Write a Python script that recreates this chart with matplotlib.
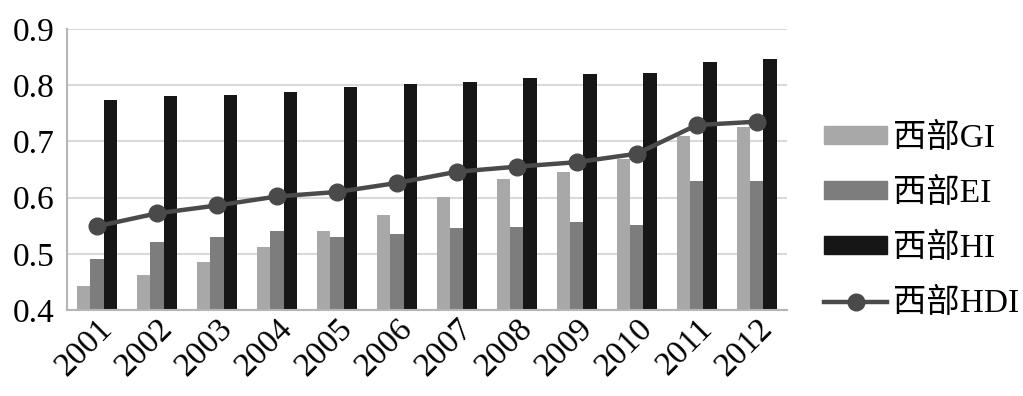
import matplotlib.pyplot as plt
import numpy as np
from matplotlib.patches import Patch
from matplotlib.lines import Line2D

years = ['2001', '2002', '2003', '2004', '2005', '2006',
         '2007', '2008', '2009', '2010', '2011', '2012']
gi = [0.443, 0.462, 0.485, 0.513, 0.541, 0.569, 0.601, 0.633, 0.646, 0.669, 0.710, 0.726]
ei = [0.490, 0.521, 0.530, 0.541, 0.530, 0.535, 0.546, 0.548, 0.557, 0.551, 0.630, 0.630]
hi = [0.774, 0.780, 0.782, 0.788, 0.797, 0.802, 0.806, 0.813, 0.819, 0.822, 0.841, 0.847]
hdi = [0.549, 0.572, 0.586, 0.602, 0.610, 0.626, 0.646, 0.655, 0.663, 0.678, 0.729, 0.735]
labels = ['西部GI', '西部EI', '西部HI', '西部HDI']

fonts = ['Liberation Serif', 'Noto Sans CJK SC', 'DejaVu Sans']
plt.rcParams['font.family'] = fonts

c_gi, c_ei, c_hi, c_hdi = '#a8a8a8', '#7d7d7d', '#161616', '#4a4a4a'

fig = plt.figure(figsize=(10.23, 3.96), dpi=100)
ax = fig.add_axes([0.0655, 0.217, 0.7035, 0.71])

x = np.arange(len(years))
w = 0.222
ax.bar(x - w, gi, w, color=c_gi, zorder=2)
ax.bar(x, ei, w, color=c_ei, zorder=2)
ax.bar(x + w, hi, w, color=c_hi, zorder=2)
ax.plot(x, hdi, color=c_hdi, lw=3.2, marker='o', ms=12, zorder=3)

ax.set_xlim(-0.5, len(years) - 0.5)
ax.set_ylim(0.4, 0.9)
ax.set_yticks([0.4, 0.5, 0.6, 0.7, 0.8, 0.9])
ax.set_yticklabels(['0.4', '0.5', '0.6', '0.7', '0.8', '0.9'], fontsize=24)
ax.set_xticks(x)
ax.set_xticklabels(years, fontsize=24, rotation=45, ha='right', rotation_mode='anchor')
ax.tick_params(axis='both', length=0)
ax.tick_params(axis='y', pad=9)
ax.tick_params(axis='x', pad=2)
ax.grid(axis='y', color='#d9d9d9', lw=1.5, zorder=0)
for s in ['top', 'right']:
    ax.spines[s].set_visible(False)
for s in ['left', 'bottom']:
    ax.spines[s].set_color('#b5b5b5')
    ax.spines[s].set_linewidth(1.5)

handles = [Patch(color=c_gi), Patch(color=c_ei), Patch(color=c_hi),
           Line2D([], [], color=c_hdi, lw=3.2, marker='o', ms=12)]
fig.legend(handles, labels, loc='center left', bbox_to_anchor=(0.776, 0.442),
           frameon=False, fontsize=24, handlelength=1.9, handleheight=0.45,
           labelspacing=0.72, handletextpad=0.18)

fig.savefig('out.png', dpi=100)
